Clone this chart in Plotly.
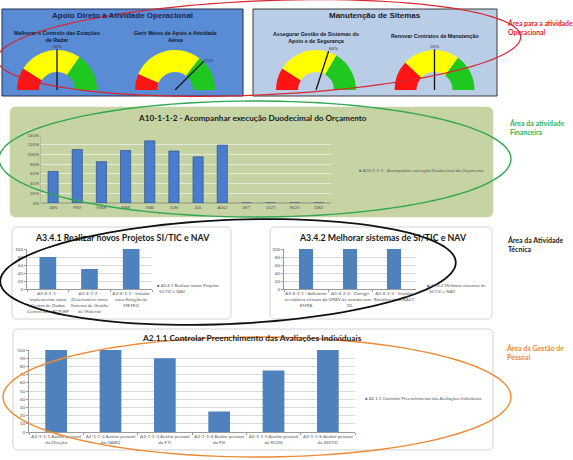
import numpy as np
import plotly.graph_objects as go

W, H = 573, 460
def px(x): return x / W
def py(y): return 1 - y / H

# ---------------- data ----------------
gauge_titles = ["Melhorar o Controlo das Estações<br>de Radar",
                "Gerir Meios de Apoio à Atividade<br>Aérea",
                "Assegurar Gestão de Sistemas do<br>Apoio e de Segurança",
                "Renovar Contratos de Manutenção"]
gauge_values = [50, 75, 60, 50]
gauge_red_end = [18, 13, 18, 24]
gauge_green_start = [69, 71, 67, 70]
gauge_label_pos = ["top center", "middle right", "top right", "top center"]

months = ["JAN", "FEV", "MAR", "ABR", "MAI", "JUN", "JUL", "AGO", "SET", "OUT", "NOV", "DEZ"]
budget_exec = [0.65, 1.10, 0.85, 1.08, 1.28, 1.07, 0.95, 1.19, 0, 0, 0, 0]

proj_cats = ["A3-4-1-1 -<br>Implementar novo<br>Centro de Dados<br>Central com BCP/BP",
             "A3-4-1-2 -<br>Desenvolver novo<br>Sistema de Gestão<br>de Material",
             "A3-4-1-1 - Instalar<br>nova Estação de<br>METEO"]
proj_vals = [80, 50, 100]

sys_cats = ["A3-4-2-1 - Adicionar<br>servidores virtuais do<br>EMPA",
            "A3-4-2-2 - Corrigir<br>SIPAV de acordo com<br>DL",
            "A3-4-2-3 - Instalar<br>Rotating Joint BA11"]
sys_vals = [100, 100, 100]

eval_cats = ["A2-1-1-1 Avaliar pessoal<br>da Direção", "A2-1-1-2 Avaliar pessoal<br>do GARO",
             "A2-1-1-3 Avaliar pessoal<br>da FTI", "A2-1-1-4 Avaliar pessoal<br>da FSI",
             "A2-1-1-5 Avaliar pessoal<br>da RCSN", "A2-1-1-6 Avaliar pessoal<br>da SSSTIC"]
eval_vals = [100, 100, 90, 25, 75, 100]

# ---------------- figure ----------------
fig = go.Figure()
shapes = []
annots = []

def rect(x0, y0, x1, y1, fill, line, lw=1.0):
    shapes.append(dict(type="rect", xref="paper", yref="paper", x0=px(x0), x1=px(x1),
                       y0=py(y1), y1=py(y0), fillcolor=fill, line=dict(color=line, width=lw),
                       layer="below"))

def rrect(x0, y0, x1, y1, r, fill, line, lw=1.0):
    X = lambda v: f"{px(v):.5f}"
    Y = lambda v: f"{py(v):.5f}"
    p = (f"M {X(x0+r)},{Y(y0)} L {X(x1-r)},{Y(y0)} Q {X(x1)},{Y(y0)} {X(x1)},{Y(y0+r)} "
         f"L {X(x1)},{Y(y1-r)} Q {X(x1)},{Y(y1)} {X(x1-r)},{Y(y1)} "
         f"L {X(x0+r)},{Y(y1)} Q {X(x0)},{Y(y1)} {X(x0)},{Y(y1-r)} "
         f"L {X(x0)},{Y(y0+r)} Q {X(x0)},{Y(y0)} {X(x0+r)},{Y(y0)} Z")
    shapes.append(dict(type="path", xref="paper", yref="paper", path=p, fillcolor=fill,
                       line=dict(color=line, width=lw), layer="below"))

def ellipse(cx, cy, a, b, rot_deg, color, lw):
    t = np.linspace(0, 2 * np.pi, 120)
    th = np.radians(rot_deg)
    xs = cx + a * np.cos(t) * np.cos(th) - b * np.sin(t) * np.sin(th)
    ys = cy - a * np.cos(t) * np.sin(th) - b * np.sin(t) * np.cos(th)
    pts = [f"{px(x):.5f},{py(y):.5f}" for x, y in zip(xs, ys)]
    p = "M " + " L ".join(pts) + " Z"
    shapes.append(dict(type="path", xref="paper", yref="paper", path=p,
                       line=dict(color=color, width=lw), layer="above"))

def text(x, y, s, size, color="#222", bold=False, family="Liberation Sans", xanchor="center", align="center"):
    if bold:
        s = "<b>" + s + "</b>"
    annots.append(dict(x=px(x), y=py(y), xref="paper", yref="paper", text=s, showarrow=False,
                       xanchor=xanchor, yanchor="middle", align=align,
                       font=dict(size=size, color=color, family=family)))

# panels
rect(2, 9, 243, 96, "#5a8cd6", "#1f2f55", 1)
rect(253, 9, 497, 96, "#b9cde6", "#3a3a3a", 1)
rrect(10, 107, 493, 217, 6, "#c6d4a3", "#c6d4a3", 0.5)
rrect(12, 227, 231, 319, 5, "#ffffff", "#c8c8c8", 0.8)
rrect(270, 227, 492, 319, 5, "#ffffff", "#c8c8c8", 0.8)
rrect(13, 329, 493, 450, 5, "#ffffff", "#c8c8c8", 0.8)

# panel titles
text(122, 15, "Apoio Direto à Atividade Operacional", 8, "#1a2550", True)
text(375, 15, "Manutenção de Sitemas", 8, "#1a1a2a", True)

# ---------------- gauges ----------------
gauge_cx = [57, 175, 316, 434.5]
gauge_cy = 90
Rpx = 40 * 1.12
gauge_title_y = [36, 36, 38, 36]
for i in range(4):
    pid = "polar" if i == 0 else f"polar{i+1}"
    segs = [(0, gauge_red_end[i], "#ff1414"), (gauge_red_end[i], gauge_green_start[i], "#ffff00"),
            (gauge_green_start[i], 100, "#1ec81e")]
    thetas = [180 - (a + b) / 2 * 1.8 for a, b, _ in segs]
    widths = [(b - a) * 1.8 for a, b, _ in segs]
    fig.add_trace(go.Barpolar(r=[0.55] * 3, base=[0.45] * 3, theta=thetas, width=widths,
                              marker=dict(color=[c for _, _, c in segs], line=dict(width=0)),
                              subplot=pid, showlegend=False, hoverinfo="skip"))
    ang = 180 - gauge_values[i] * 1.8
    fig.add_trace(go.Scatterpolar(r=[0, 1.02], theta=[ang, ang], mode="lines",
                                  line=dict(color="#111", width=1.3), subplot=pid,
                                  showlegend=False, hoverinfo="skip"))
    fig.add_trace(go.Scatterpolar(r=[1.03], theta=[ang], mode="text", text=[f"{gauge_values[i]}%"],
                                  textposition=gauge_label_pos[i], cliponaxis=False,
                                  textfont=dict(size=5, color="#222", family="Liberation Serif"),
                                  subplot=pid, showlegend=False, hoverinfo="skip"))
    cx = gauge_cx[i]
    fig.layout[pid] = dict(
        domain=dict(x=[px(cx - Rpx), px(cx + Rpx)], y=[py(gauge_cy), py(gauge_cy - Rpx)]),
        sector=[0, 180], bgcolor="rgba(0,0,0,0)",
        radialaxis=dict(visible=False, range=[0, 1.12]),
        angularaxis=dict(visible=False, direction="counterclockwise", rotation=0))
    text(cx, gauge_title_y[i], gauge_titles[i], 5.3, "#101830", True)

# ---------------- budget chart ----------------
tickfont = dict(size=4.6, color="#555", family="Lato")
fig.add_trace(go.Bar(x=months, y=budget_exec, width=0.42, xaxis="x", yaxis="y",
                     marker=dict(color="#4a7ccc", line=dict(color="#2c4f8f", width=0.7)),
                     showlegend=False, hoverinfo="skip"))
fig.update_layout(
    xaxis=dict(domain=[px(41), px(331)], anchor="y", tickfont=tickfont, showline=False,
               showgrid=False, ticks="", tickangle=0, automargin=False),
    yaxis=dict(domain=[py(203), py(135)], anchor="x", range=[0, 1.4], tickvals=[0, .2, .4, .6, .8, 1.0, 1.2, 1.4],
               tickformat=".0%", tickfont=tickfont, gridcolor="#e4ead6", gridwidth=0.8,
               zeroline=True, zerolinecolor="#aab38f", showline=True, linecolor="#b4bd9a",
               automargin=False),
)
text(252, 118, "A10-1-1-2 - Acompanhar execução Duodecimal do Orçamento", 8.2, "#1a1a1a", True, "Lato")
text(357, 170, "<span style='color:#4a7ccc'>■</span> A10-1-1-2 - Acompanhar execução Duodecimal do Orçamento",
     4.4, "#555", False, "Lato", "left", "left")

# ---------------- technical charts ----------------
bar_marker = dict(color="#4f81bd", line=dict(width=0))
fig.add_trace(go.Bar(x=proj_cats, y=proj_vals, width=0.4, xaxis="x2", yaxis="y2", marker=bar_marker,
                     showlegend=False, hoverinfo="skip"))
fig.add_trace(go.Bar(x=sys_cats, y=sys_vals, width=0.32, xaxis="x3", yaxis="y3", marker=bar_marker,
                     showlegend=False, hoverinfo="skip"))
fig.add_trace(go.Bar(x=eval_cats, y=eval_vals, width=0.4, xaxis="x4", yaxis="y4", marker=bar_marker,
                     showlegend=False, hoverinfo="skip"))

def cat_axis(dom, anchor):
    return dict(domain=[px(dom[0]), px(dom[1])], anchor=anchor, tickfont=tickfont, showline=True,
                linecolor="#9a9a9a", linewidth=0.8, ticks="outside", tickson="boundaries",
                ticklen=2, tickcolor="#9a9a9a", showgrid=False, tickangle=0, automargin=False)

def val_axis(dom, anchor, dtick):
    return dict(domain=[py(dom[1]), py(dom[0])], anchor=anchor, range=[0, 100], dtick=dtick,
                tickfont=tickfont, gridcolor="#d9d9d9", gridwidth=0.8, showline=True,
                linecolor="#9a9a9a", linewidth=0.8, ticks="outside", ticklen=2,
                tickcolor="#9a9a9a", zeroline=False, automargin=False)

fig.update_layout(
    xaxis2=cat_axis((27, 152), "y2"), yaxis2=val_axis((249, 289), "x2", 20),
    xaxis3=cat_axis((284, 416), "y3"), yaxis3=val_axis((249, 289), "x3", 20),
    xaxis4=cat_axis((29, 355), "y4"), yaxis4=val_axis((350, 432), "x4", 10),
)
text(122, 237, "A3.4.1 Realizar novos Projetos SI/TIC e NAV", 8.8, "#1a1a1a", True, "Lato")
text(383, 237, "A3.4.2 Melhorar sistemas de SI/TIC e NAV", 8.8, "#1a1a1a", True, "Lato")
text(252, 338, "A2.1.1 Controlar Preenchimento das Avaliações Individuais", 8.4, "#1a1a1a", True, "Lato")
text(155, 288, "<span style='color:#4f81bd'>■</span> A3.4.1 Realizar novos Projetos<br>  SI/TIC e NAV",
     4.4, "#555", False, "Lato", "left", "left")
text(425, 288, "<span style='color:#4f81bd'>■</span> A3.4.2 Melhorar sistemas de<br>  SI/TIC e NAV",
     4.4, "#555", False, "Lato", "left", "left")
text(363, 398, "<span style='color:#4f81bd'>■</span> A2.1.1 Controlar Preenchimento das Avaliações Individuais",
     4.4, "#555", False, "Lato", "left", "left")

# ---------------- side notes ----------------
text(505, 28, "Área para a atividade<br>Operacional", 6.9, "#e02028", True, "Lato", "left", "left")
text(507, 128, "Área da atividade<br>Financeira", 7.0, "#2fb452", True, "Lato", "left", "left")
text(505, 244, "Área da Atividade<br>Técnica", 7.0, "#1a1a1a", True, "Lato", "left", "left")
text(504, 352, "Área da Gestão de<br>Pessoal", 7.0, "#f08a2a", True, "Lato", "left", "left")

# ---------------- ellipses ----------------
ellipse(259, 48, 262, 47, 2.5, "#d8262e", 1.2)
ellipse(255, 159, 256, 58, 0, "#30a850", 1.4)
ellipse(228, 272, 228, 52, 2.5, "#111111", 1.8)
ellipse(257, 397, 254, 60, 0, "#ec8a35", 1.4)

fig.update_layout(width=W, height=H, margin=dict(l=0, r=0, t=0, b=0), paper_bgcolor="white",
                  plot_bgcolor="rgba(0,0,0,0)", shapes=shapes, annotations=annots,
                  bargap=0.5, hovermode=False, font=dict(family="Lato"))
fig.write_html("out.html")
